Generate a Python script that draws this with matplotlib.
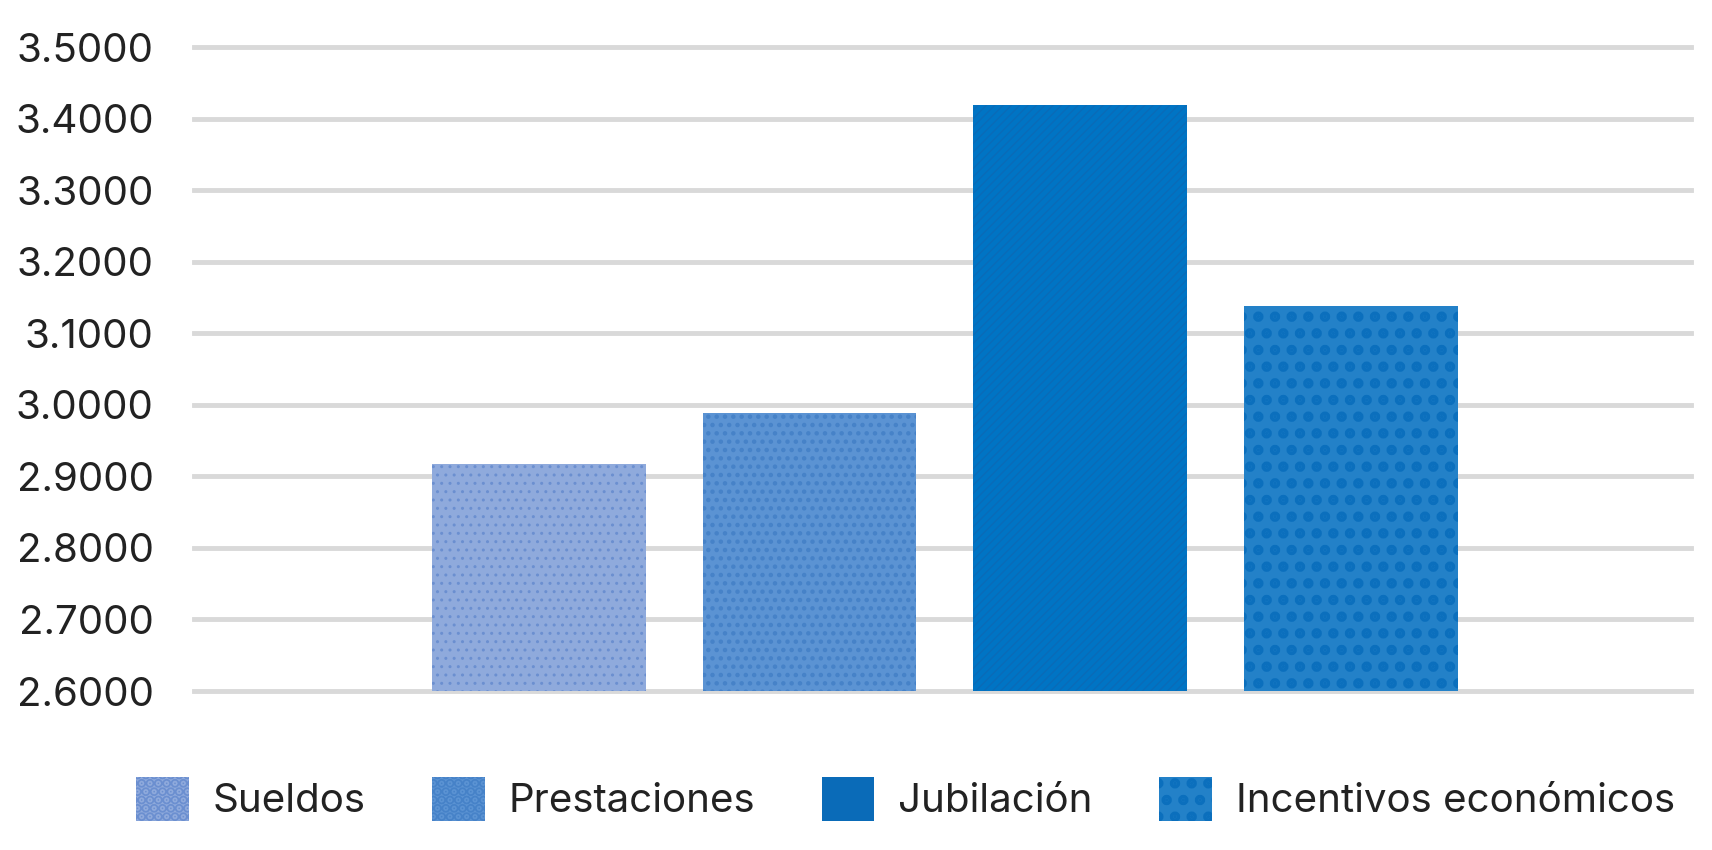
import matplotlib.pyplot as plt

plt.rcParams['font.family'] = ['Inter', 'DejaVu Sans']

# datos
categorias = ["Sueldos", "Prestaciones", "Jubilación", "Incentivos económicos"]
valores = [2.917, 2.989, 3.419, 3.138]
colores = ["#8FAADC", "#5B93D3", "#0074C4", "#2381C8"]
colores_trama = ["#6B8FD0", "#4682C8", "#0A6BB8", "#0B6FBD"]
tramas = ["..", "..", "////", "."]
grosor_trama = [1.0, 2.0, 1.0, 5.0]

fig = plt.figure(figsize=(17.12, 8.5), dpi=100)
ax = fig.add_axes([0.1133, 0.187, 0.8747, 0.7577])

base = 2.6
for i, (v, c, hc, h) in enumerate(zip(valores, colores, colores_trama, tramas)):
    plt.rcParams['hatch.linewidth'] = grosor_trama[i]
    ax.bar(i, v - base, bottom=base, width=0.79, color=c, edgecolor=hc,
           hatch=h, linewidth=0, label=categorias[i], zorder=2)

ax.set_xlim(-1.274, 4.258)
ax.set_ylim(2.6, 3.5)
ax.set_yticks([2.6 + 0.1 * k for k in range(10)])
ax.set_yticklabels([f"{2.6 + 0.1 * k:.4f}" for k in range(10)])
ax.set_xticks([])
ax.grid(axis="y", color="#D9D9D9", linewidth=3.5, zorder=0)
for ln in ax.get_ygridlines():
    ln.set_clip_on(False)
ax.set_axisbelow(True)
for s in ax.spines.values():
    s.set_visible(False)
ax.tick_params(axis="y", length=0, pad=29, labelsize=29, labelcolor="#222222")

fig.legend(loc="center", bbox_to_anchor=(0.529, 0.06), ncol=4, frameon=False,
           fontsize=29, handlelength=1.3, handleheight=1.3, handletextpad=0.6,
           columnspacing=1.65, labelcolor="#222222")

fig.savefig("out.png", dpi=100)
